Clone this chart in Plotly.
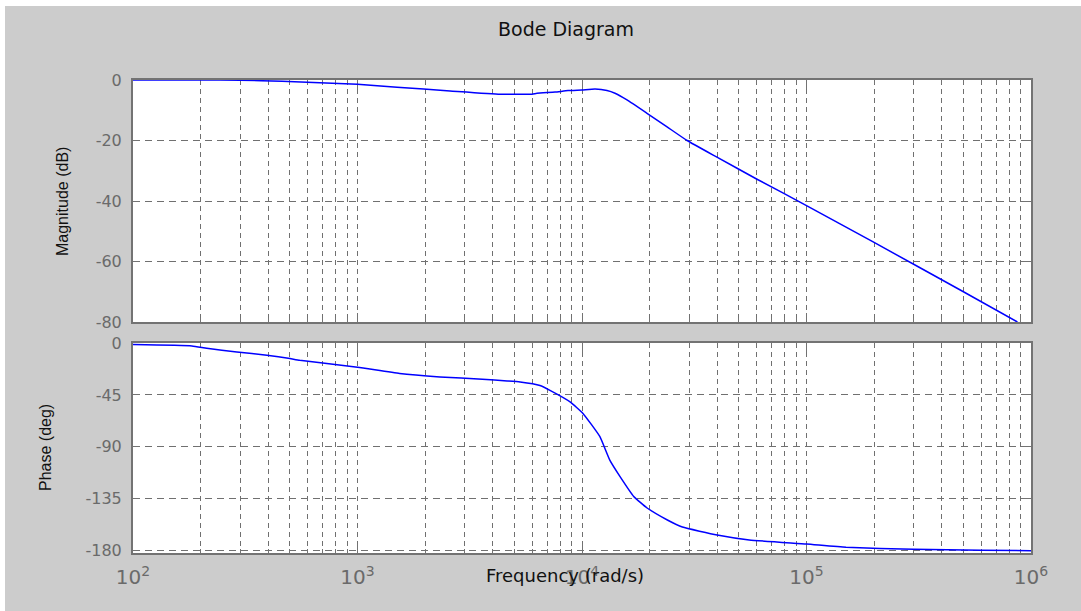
import plotly.graph_objects as go

# ---- data ----
freq_mag = [100, 200, 300, 461, 1000, 1500, 2583, 4310, 5990, 6300, 7580, 8660, 9990,
            11430, 12920, 14030, 15860, 19480, 23930, 29380, 39900, 60200,
            100000, 200000, 500000, 870000]
mag_db = [0, 0, -0.1, -0.4, -1.4, -2.4, -3.6, -4.7, -4.7, -4.4, -4.0, -3.5, -3.3,
          -3.0, -3.5, -4.4, -6.6, -11, -15.5, -20, -25.5, -32.8,
          -41.5, -53.7, -70, -80]

freq_phase = [100, 183, 213, 290, 395, 500, 553, 1000, 1540, 2330, 3600, 4640, 5300, 6500,
              7200, 8850, 10100, 12000, 13300, 14800, 17000, 19500, 24000, 28000,
              40000, 55600, 100000, 150000, 300000, 600000, 1000000]
phase_deg = [-1.4, -2.6, -4.6, -7.8, -10.6, -13.5, -15, -21, -26.5, -29.4, -31.4, -32.9, -33.8, -36.8,
             -41, -51, -61, -81, -101.5, -116, -133, -143, -153.4, -159.5,
             -166.4, -170.7, -174.2, -177, -178.8, -179.6, -180]

mag_ticks = [0, -20, -40, -60, -80]
phase_ticks = [0, -45, -90, -135, -180]

title_text = "Bode Diagram"
xlabel_text = "Frequency (rad/s)"
ylabel_mag = "Magnitude (dB)"
ylabel_phase = "Phase (deg)"

# ---- style ----
BG = "#cccccc"
FRAME = "#737373"
GRID = "#707070"
TICKC = "#6a6a6a"
BLUE = "#0000ff"
HFONT = "DejaVu Sans"
VFONT = "Liberation Sans"

fig = go.Figure()
fig.add_trace(go.Scatter(x=freq_mag, y=mag_db, mode="lines", xaxis="x", yaxis="y",
                         line=dict(color=BLUE, width=1.5, shape="spline", smoothing=0.4),
                         showlegend=False, hoverinfo="skip"))
fig.add_trace(go.Scatter(x=freq_phase, y=phase_deg, mode="lines", xaxis="x2", yaxis="y2",
                         line=dict(color=BLUE, width=1.5, shape="spline", smoothing=0.4),
                         showlegend=False, hoverinfo="skip"))

def xaxis_common(show_labels, anchor):
    return dict(
        type="log", range=[2, 6], anchor=anchor,
        tickmode="linear", tick0=0, dtick=1,
        exponentformat="power", showexponent="all",
        showticklabels=show_labels,
        ticks="inside", ticklen=9, tickcolor=FRAME, tickwidth=1,
        showline=True, linecolor=FRAME, linewidth=2, mirror="ticks",
        showgrid=True, gridcolor=GRID, gridwidth=1, griddash="5px,4px",
        minor=dict(dtick="D1", ticks="inside", ticklen=4, tickcolor=FRAME,
                   showgrid=True, gridcolor=GRID, gridwidth=1, griddash="5px,4px"),
        zeroline=False, layer="below traces",
        tickfont=dict(family=HFONT, size=16, color=TICKC),
        ticklabelstandoff=6,
    )

def yaxis_common(rng, ticks, domain, anchor):
    return dict(
        range=rng, domain=domain, anchor=anchor,
        tickmode="array", tickvals=ticks, ticktext=[str(t) for t in ticks],
        ticks="inside", ticklen=7, tickcolor=FRAME, tickwidth=1,
        showline=True, linecolor=FRAME, linewidth=2, mirror="ticks",
        showgrid=True, gridcolor=GRID, gridwidth=1, griddash="7px,5px",
        zeroline=False, layer="below traces",
        tickfont=dict(family=HFONT, size=16, color=TICKC),
        ticklabelstandoff=6,
    )

W, H = 1081, 611
L, R, T, B = 133, 50, 80, 58
pw, ph = W - L - R, H - T - B

def px(xp):
    return (xp - L) / pw

def py(yp):
    return (H - B - yp) / ph

fig.update_layout(
    width=W, height=H,
    margin=dict(l=L, r=R, t=T, b=B),
    paper_bgcolor=BG, plot_bgcolor="white",
    xaxis=xaxis_common(False, "y"),
    xaxis2={**xaxis_common(True, "y2"), "matches": "x"},
    yaxis=yaxis_common([-80, 0], mag_ticks, [py(322), 1.0], "x"),
    yaxis2=yaxis_common([-182, 0], phase_ticks, [0.0, py(343)], "x2"),
    showlegend=False,
)

fig.add_annotation(x=px(566), y=py(29), xref="paper", yref="paper", text=title_text,
                   showarrow=False, xanchor="center", yanchor="middle",
                   font=dict(family=HFONT, size=19, color="#111111"))
fig.add_annotation(x=px(565), y=py(575), xref="paper", yref="paper", text=xlabel_text,
                   showarrow=False, xanchor="center", yanchor="middle",
                   font=dict(family=HFONT, size=18, color="#111111"))
fig.add_annotation(x=px(62), y=py(202), xref="paper", yref="paper", text=ylabel_mag,
                   showarrow=False, xanchor="center", yanchor="middle", textangle=-90,
                   font=dict(family=VFONT, size=16, color="#111111"))
fig.add_annotation(x=px(45), y=py(448), xref="paper", yref="paper", text=ylabel_phase,
                   showarrow=False, xanchor="center", yanchor="middle", textangle=-90,
                   font=dict(family=VFONT, size=16, color="#111111"))

# thin white border strips at the top and left edge of the screenshot
fig.add_shape(type="rect", xref="paper", yref="paper", layer="below",
              x0=px(0), x1=px(W), y0=py(6), y1=py(0), fillcolor="white", line=dict(width=0))
fig.add_shape(type="rect", xref="paper", yref="paper", layer="below",
              x0=px(0), x1=px(5), y0=py(H), y1=py(0), fillcolor="white", line=dict(width=0))

fig.write_html("out.html", config={"displayModeBar": False},
               post_script="document.body.style.margin='0';document.body.style.overflow='hidden';")
